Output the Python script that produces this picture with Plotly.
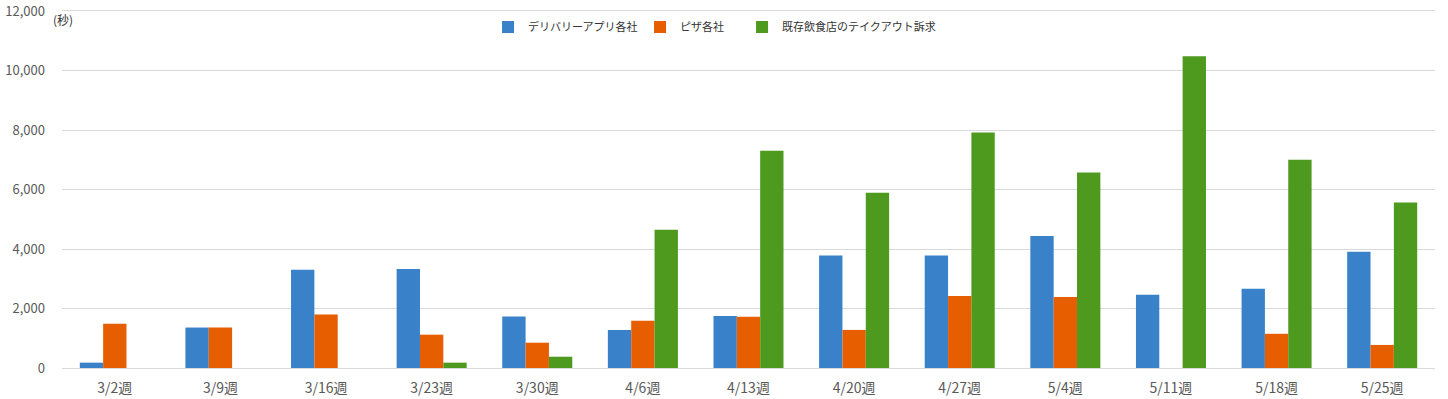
import plotly.graph_objects as go

categories = ["3/2週", "3/9週", "3/16週", "3/23週", "3/30週", "4/6週", "4/13週",
              "4/20週", "4/27週", "5/4週", "5/11週", "5/18週", "5/25週"]
delivery = [180, 1360, 3300, 3330, 1730, 1280, 1750, 3780, 3780, 4440, 2460, 2660, 3910]
pizza = [1490, 1360, 1800, 1120, 850, 1590, 1720, 1280, 2420, 2390, 0, 1150, 775]
takeout = [0, 0, 0, 180, 380, 4650, 7300, 5890, 7920, 6570, 10480, 7000, 5560]
series_names = ["デリバリーアプリ各社", "ピザ各社", "既存飲食店のテイクアウト訴求"]
colors = ["#3982CA", "#E75E00", "#4E9A1F"]
y_ticks = [0, 2000, 4000, 6000, 8000, 10000, 12000]

font_family = "Noto Sans CJK JP, Meiryo, sans-serif"
legend_ids = ["legend", "legend2", "legend3"]
legend_x = [0.3103, 0.4210, 0.4953]

fig = go.Figure()
for name, vals, col, lid in zip(series_names, [delivery, pizza, takeout], colors, legend_ids):
    fig.add_trace(go.Bar(x=categories, y=vals, name=name, marker_color=col,
                         marker_line_width=0, legend=lid))

legend_common = dict(orientation="h", y=0.955, yanchor="middle", xanchor="left",
                     font=dict(size=11, color="#333333"), bgcolor="rgba(0,0,0,0)",
                     itemwidth=30)

layout_legends = {lid: dict(legend_common, x=lx) for lid, lx in zip(legend_ids, legend_x)}

fig.update_layout(
    width=1448, height=399,
    margin=dict(l=62, r=13, t=11, b=31, autoexpand=False),
    paper_bgcolor="white", plot_bgcolor="white",
    barmode="group", bargap=0.337, bargroupgap=0,
    font=dict(family=font_family, size=12, color="#595959"),
    showlegend=True,
    xaxis=dict(showgrid=False, showline=True, mirror=True, linecolor="#D9D9D9", linewidth=1,
               ticks="", automargin=False, ticklabelstandoff=7,
               tickfont=dict(size=14, color="#595959")),
    yaxis=dict(range=[0, 12000], tickvals=y_ticks, tickformat=",d",
               showgrid=True, gridcolor="#D9D9D9", gridwidth=1, zeroline=False,
               showline=False, ticks="", ticklabelstandoff=16, automargin=False,
               tickfont=dict(size=13, color="#595959")),
    annotations=[dict(text="(秒)", xref="paper", yref="paper", x=-0.008, y=0.975,
                      xanchor="left", yanchor="middle", showarrow=False,
                      font=dict(size=12, color="#333333"))],
    **layout_legends,
)

fig.write_html("out.html", config={"displayModeBar": False},
               post_script="document.body.style.margin='0';")
